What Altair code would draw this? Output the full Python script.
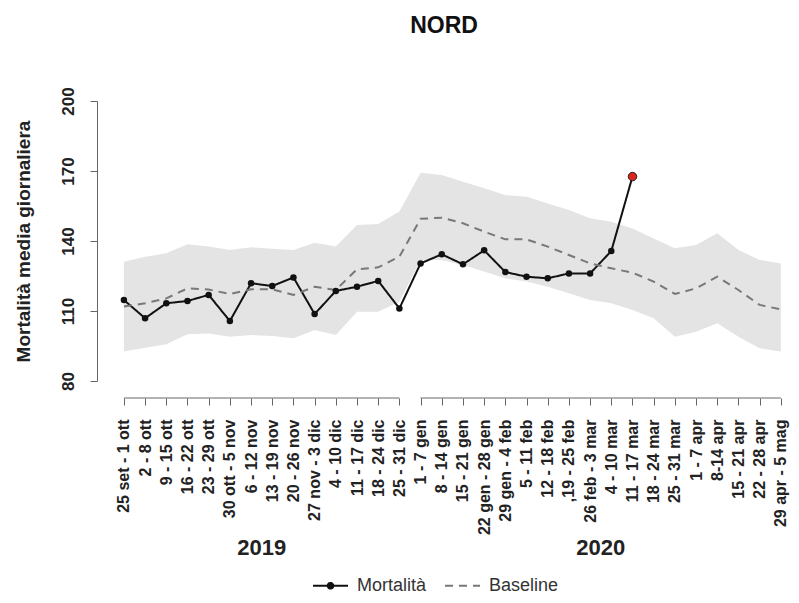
import json
import altair as alt
import pandas as pd

# ---------------- data ----------------
settimane_2019 = ["25 set - 1 ott", "2 - 8 ott", "9 - 15 ott", "16 - 22 ott", "23 - 29 ott",
                  "30 ott - 5 nov", "6 - 12 nov", "13 - 19 nov", "20 - 26 nov", "27 nov - 3 dic",
                  "4 - 10 dic", "11 - 17 dic", "18 - 24 dic", "25 - 31 dic"]
settimane_2020 = ["1 - 7 gen", "8 - 14 gen", "15 - 21 gen", "22 gen - 28 gen", "29 gen - 4 feb",
                  "5 - 11 feb", "12 - 18 feb", ",19 - 25 feb", "26 feb - 3 mar", "4 - 10 mar",
                  "11 - 17 mar", "18 - 24 mar", "25 - 31 mar", "1 - 7 apr", "8-14 apr",
                  "15 - 21 apr", "22 - 28 apr", "29 apr - 5 mag"]
anni = ["2019", "2020"]

mortalita = [114.7, 106.9, 113.3, 114.3, 116.9, 105.7, 121.9, 120.7, 124.4, 108.7,
             118.6, 120.4, 122.9, 111.1,
             130.4, 134.3, 130.0, 136.0, 126.7, 124.7, 124.0, 126.1, 126.1, 135.7, 167.6]
baseline = [111.9, 113.3, 115.4, 119.7, 119.2, 117.3, 119.3, 119.3, 116.9, 120.4,
            119.0, 127.9, 128.7, 133.3,
            149.5, 150.0, 147.6, 144.0, 140.7, 140.7, 137.6, 134.0, 130.4, 128.3,
            126.4, 122.6, 117.3, 119.7, 124.7, 119.0, 112.6, 110.7]
banda_sup = [131.1, 133.3, 134.7, 138.6, 137.6, 136.1, 137.3, 136.7, 136.1, 139.3,
             137.6, 146.9, 147.3, 152.6,
             169.3, 168.3, 165.4, 162.6, 159.7, 159.0, 156.1, 153.3, 149.7, 148.3,
             145.4, 141.1, 136.9, 138.3, 143.3, 136.1, 131.9, 130.4]
banda_inf = [92.6, 94.3, 95.7, 100.0, 100.4, 99.0, 99.7, 99.3, 98.3, 101.9,
             99.7, 109.7, 109.7, 114.0,
             131.9, 131.9, 129.7, 126.9, 124.0, 122.6, 120.4, 117.6, 114.7, 113.3,
             110.4, 106.9, 99.0, 101.1, 104.7, 99.0, 94.0, 92.6]
y_ticks = [80, 110, 140, 170, 200]

# ---------------- tables ----------------
etichette = settimane_2019 + settimane_2020
n = len(etichette)
n19 = len(settimane_2019)
idx = list(range(n))
ultimo = len(mortalita) - 1

df_band = pd.DataFrame({"idx": idx, "inf": banda_inf, "sup": banda_sup})
df_lines = pd.concat([
    pd.DataFrame({"idx": idx[:len(mortalita)], "valore": mortalita, "serie": "Mortalità"}),
    pd.DataFrame({"idx": idx, "valore": baseline, "serie": "Baseline"}),
], ignore_index=True)
df_seg = pd.DataFrame({"anno": anni, "inizio": [0, n19], "fine": [n19 - 1, n - 1]})
df_seg["centro"] = (df_seg["inizio"] + df_seg["fine"]) / 2

FONT = "Liberation Sans"
AX_COL = "#666666"
TXT_COL = "#222222"

x_scale = alt.Scale(domain=[-1.27, n - 0.52], nice=False, zero=False)
x_axis = alt.Axis(
    values=idx, labelExpr=json.dumps(etichette, ensure_ascii=False) + "[datum.value]",
    title=None, domain=False, grid=False, offset=17, tickSize=7, tickColor=AX_COL,
    tickWidth=1, labelAngle=270, labelAlign="right", labelBaseline="middle",
    labelPadding=14, labelFontSize=16, labelFontWeight="bold", labelFont=FONT,
    labelColor=TXT_COL, labelOverlap=False, labelFlush=False, labelBound=False,
    orient="bottom",
)
y_axis = alt.Axis(
    values=y_ticks, title="Mortalità media giornaliera", grid=False, domainColor=AX_COL,
    tickColor=AX_COL, tickSize=7, labelAngle=270, labelAlign="center",
    labelBaseline="bottom", labelPadding=13, labelFontSize=17, labelFontWeight="bold",
    labelFont=FONT, labelColor=TXT_COL, titleFont=FONT, titleFontSize=19,
    titleFontWeight="bold", titleColor=TXT_COL, titleAngle=270, titleX=-74, titleY=140,
    titleAlign="center", titleBaseline="middle",
)
y_scale = alt.Scale(domain=[80, 200], nice=False, zero=False)


def xq(field):
    return alt.X(field, type="quantitative", scale=x_scale, axis=x_axis)


def yq(field):
    return alt.Y(field, type="quantitative", scale=y_scale, axis=y_axis)


serie_dom = ["Mortalità", "Baseline"]
simbolo = ("datum.value === 'Mortalità' ? "
           "'M-1,0H1M-0.16,0A0.16,0.16,0,1,1,0.16,0A0.16,0.16,0,1,1,-0.16,0"
           "M-0.07,0A0.07,0.07,0,1,1,0.07,0A0.07,0.07,0,1,1,-0.07,0' : 'stroke'")
legenda = alt.Legend(
    title=None, orient="none", legendX=215, legendY=466, direction="horizontal",
    symbolType=alt.ExprRef(expr=simbolo), symbolSize=1225, symbolStrokeWidth=2,
    labelFontSize=18, labelFont=FONT, labelColor="#333333", labelOffset=8, columnPadding=14,
)

band = alt.Chart(df_band).mark_area(color="#e4e4e4", opacity=1).encode(
    x=xq("idx"),
    y=yq("inf"),
    y2="sup:Q",
)

lines = alt.Chart(df_lines).mark_line(strokeWidth=2).encode(
    x=xq("idx"),
    y=yq("valore"),
    color=alt.Color("serie:N", scale=alt.Scale(domain=serie_dom, range=["#111111", "#787878"]),
                    legend=legenda),
    strokeDash=alt.StrokeDash("serie:N", scale=alt.Scale(domain=serie_dom, range=[[1, 0], [8, 6]]),
                              legend=legenda),
)

punti = alt.Chart(df_lines).transform_filter(
    (alt.datum.serie == "Mortalità") & (alt.datum.idx < ultimo)
).mark_point(filled=True, size=42, color="#111111", opacity=1).encode(
    x=xq("idx"), y=yq("valore"),
)

punto_rosso = alt.Chart(df_lines).transform_filter(
    (alt.datum.serie == "Mortalità") & (alt.datum.idx == ultimo)
).mark_point(filled=True, size=72, fill="#d8261e", stroke="#222222", strokeWidth=1,
             opacity=1).encode(
    x=xq("idx"), y=yq("valore"),
)

segmenti = alt.Chart(df_seg).mark_rule(color=AX_COL, strokeWidth=1).encode(
    x=xq("inizio"),
    x2="fine:Q",
    y=alt.value(297),
)

anni_txt = alt.Chart(df_seg).mark_text(
    font=FONT, fontSize=22, fontWeight="bold", color=TXT_COL, baseline="middle"
).encode(
    x=xq("centro"),
    y=alt.value(447),
    text="anno:N",
)

chart = alt.layer(band, lines, punti, punto_rosso, segmenti, anni_txt).properties(
    width=694, height=280,
    background="white",
    title=alt.TitleParams("NORD", font=FONT, fontSize=23, fontWeight="bold", color="#111111",
                          anchor="middle", offset=49),
    autosize=alt.AutoSizeParams(type="none"),
    padding={"left": 89, "top": 93, "right": 0, "bottom": 213},
).configure_view(stroke=None)

chart.save("out.html", embed_options={"renderer": "svg", "actions": False})
